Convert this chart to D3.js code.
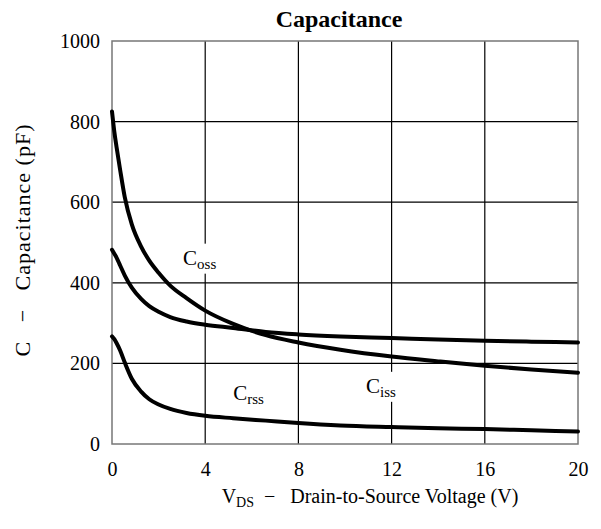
<html>
<head>
<script src="https://d3js.org/d3.v7.min.js"></script>
<style>
  body { margin: 0; background: #fff; }
  text { font-family: "Liberation Serif", "Times New Roman", serif; fill: #000; }
</style>
</head>
<body>
<div id="chart"></div>
<script>
// values
var vds  = [0, 0.1, 0.2, 0.35, 0.55, 0.85, 1.25, 1.6, 2, 2.5, 3.2, 4, 5.2, 6.6, 8, 9.8, 12, 14, 16, 18, 20];
var coss = [825, 775, 735, 680, 612, 545, 490, 455, 425, 393, 362, 331, 298, 270, 252, 234, 217, 205, 194, 185, 177];
var ciss = [482, 472, 462, 443, 418, 388, 360, 342, 328, 315, 304, 296, 288, 278, 272, 267, 263, 259, 256, 254, 252];
var crss = [267, 260, 250, 232, 202, 162, 130, 111, 98, 87, 77, 70, 64, 58, 52, 46, 42, 39, 37, 34, 31];
var xTicks = [0, 4, 8, 12, 16, 20];
var yTicks = [0, 200, 400, 600, 800, 1000];
// curve labels: [name, subscript, V, C]
var labels = [["C", "oss", 3.05, 445], ["C", "iss", 10.9, 127], ["C", "rss", 5.2, 110]];

var W = 601, H = 529;
var m = {left: 112, right: 23, top: 41, bottom: 85};

var svg = d3.select('#chart').append('svg')
  .attr('width', W).attr('height', H);

var x = d3.scaleLinear().domain([0, 20]).range([m.left, W - m.right]);
var y = d3.scaleLinear().domain([0, 1000]).range([H - m.bottom, m.top]);

// grid
svg.append('g').selectAll('line').data(xTicks.slice(1, -1)).enter().append('line')
  .attr('x1', function(d){ return x(d) }).attr('x2', function(d){ return x(d) })
  .attr('y1', y(0)).attr('y2', y(1000))
  .attr('stroke', '#000').attr('stroke-width', 1.2);
svg.append('g').selectAll('line').data(yTicks.slice(1, -1)).enter().append('line')
  .attr('y1', function(d){ return y(d) }).attr('y2', function(d){ return y(d) })
  .attr('x1', x(0)).attr('x2', x(20))
  .attr('stroke', '#000').attr('stroke-width', 1.2);

svg.append('rect')
  .attr('x', x(0)).attr('y', y(1000))
  .attr('width', x(20) - x(0)).attr('height', y(0) - y(1000))
  .attr('fill', 'none').attr('stroke', '#777').attr('stroke-width', 1.5);

// tick labels
var xAxis = d3.axisBottom(x).tickValues(xTicks).tickFormat(d3.format('d')).tickSize(0).tickPadding(18);
var gx = svg.append('g').attr('transform', 'translate(0,' + y(0) + ')').call(xAxis);
var yAxis = d3.axisLeft(y).tickValues(yTicks).tickFormat(d3.format('d')).tickSize(0).tickPadding(12);
var gy = svg.append('g').attr('transform', 'translate(' + x(0) + ',0)').call(yAxis);
[gx, gy].forEach(function(g){
  g.attr('font-family', '"Liberation Serif", "Times New Roman", serif').attr('font-size', 20);
  g.select('.domain').remove();
  g.selectAll('text').style('font-size', '20px');
});

// label boxes (break the grid lines)
var lab = svg.append('g');
labels.forEach(function(l){
  var t = lab.append('text')
    .attr('x', x(l[2])).attr('y', y(l[3]))
    .style('font-size', '21px');
  t.append('tspan').text(l[0]);
  t.append('tspan').text(l[1]).attr('dy', 4).style('font-size', '15px');
  var b = t.node().getBBox();
  lab.insert('rect', 'text')
    .attr('x', b.x - 2).attr('y', b.y - 2)
    .attr('width', b.width + 4).attr('height', b.height + 4)
    .attr('fill', '#fff');
});

// curves
var line = d3.line()
  .x(function(d, i){ return x(vds[i]) })
  .y(function(d){ return y(d) })
  .curve(d3.curveMonotoneX);
[coss, ciss, crss].forEach(function(s){
  svg.append('path').datum(s)
    .attr('d', line)
    .attr('fill', 'none').attr('stroke', '#000')
    .attr('stroke-width', 4).attr('stroke-linecap', 'round');
});

// title and axis titles
svg.append('text')
  .attr('x', 339).attr('y', 27)
  .attr('text-anchor', 'middle')
  .style('font-size', '24px').style('font-weight', 'bold')
  .text('Capacitance');

var xt = svg.append('text')
  .attr('x', 370).attr('y', 503)
  .attr('text-anchor', 'middle')
  .style('font-size', '20px')
  .attr('xml:space', 'preserve');
xt.append('tspan').text('V');
xt.append('tspan').text('DS').attr('dy', 4).style('font-size', '14px');
xt.append('tspan').text('  \u2212   Drain-to-Source Voltage (V)').attr('dy', -4);

svg.append('text')
  .attr('transform', 'translate(30,' + 240 + ') rotate(-90)')
  .attr('text-anchor', 'middle')
  .style('font-size', '22px').style('letter-spacing', '1px')
  .attr('xml:space', 'preserve')
  .text('C \u2002\u2212\u2002 Capacitance (pF)');
</script>
</body>
</html>
